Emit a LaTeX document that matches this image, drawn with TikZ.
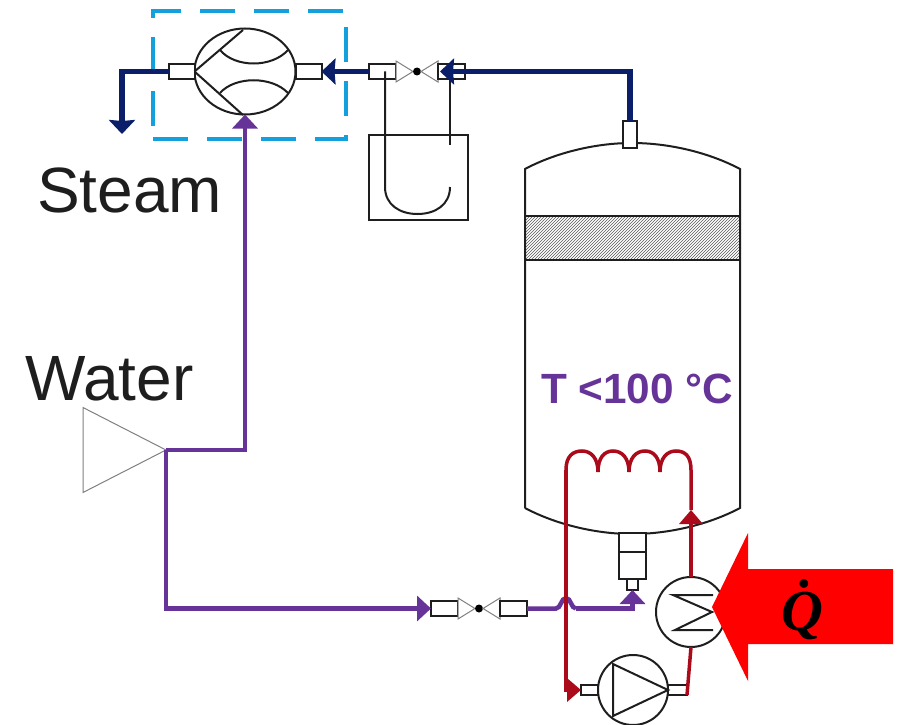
\documentclass[tikz,border=0pt]{standalone}
\usepackage{fontspec}
\setmainfont{Liberation Sans}
\newfontfamily\qfont{Liberation Serif}
\usetikzlibrary{positioning, arrows.meta, shapes.geometric, patterns}
\definecolor{steamcolor}{RGB}{10, 30, 105}
\definecolor{watercolor}{RGB}{102, 51, 153}
\definecolor{heatcolor}{RGB}{170, 10, 25}
\definecolor{boxcolor}{RGB}{20, 160, 220}
\definecolor{linecolor}{RGB}{30, 30, 30}

\begin{document}
\begin{tikzpicture}[
    x=1pt, y=-1pt,
    every node/.style={inner sep=0pt, outer sep=0pt},
    equip/.style={draw=linecolor, line width=2pt, fill=white},
    stub/.style={equip, rectangle, minimum width=27pt, minimum height=15pt},
    vtri/.style={isosceles triangle, isosceles triangle stretches, draw=gray, line width=1pt, fill=white, minimum width=21pt, minimum height=17pt},
    vdot/.style={circle, fill=black, minimum size=8pt},
    steamline/.style={-{Stealth[inset=1pt, length=14pt, width=26pt]}, steamcolor, line width=5.5pt},
    waterline/.style={-{Stealth[inset=0pt, length=14pt, width=25pt]}, watercolor, line width=4.5pt},
    heatline/.style={-{Stealth[inset=0pt, length=14pt, width=23pt]}, heatcolor, line width=3.5pt},
    thinline/.style={linecolor, line width=2pt},
    label/.style={text=linecolor, anchor=base west, font=\fontsize{64}{64}\selectfont},
]
\useasboundingbox (0,0) rectangle (903,725);

% ============ Steam side ============
\node[draw=boxcolor, line width=4pt, dash pattern=on 35pt off 19pt, minimum width=193pt, minimum height=128pt] (steam_box) at (249.5,75) {};
\node[equip, ellipse, minimum width=101pt, minimum height=86pt] (ejector) at (245,71.5) {};
\node[stub, minimum width=26pt, left=0pt of ejector] (ejector_l) {};
\node[stub, minimum width=26pt, right=0pt of ejector] (ejector_r) {};
\coordinate (steam_end) at (122,134);

% ============ Top valve and U-tube ============
\node[stub] (valve_top_l) at (382.5,71.5) {};
\node[vtri, right=0pt of valve_top_l] (vtri_top_l) {};
\node[vdot, right=0pt of vtri_top_l] (vdot_top) {};
\node[vtri, shape border rotate=180, right=0pt of vdot_top] (vtri_top_r) {};
\node[stub, right=0pt of vtri_top_r] (valve_top_r) {};
\node[equip, fill=none, minimum width=99pt, minimum height=85pt] (tank) at (418.5,177.5) {};
\coordinate (tube_l) at (385,187);
\coordinate (tube_r) at (450,187);
\coordinate (tube_dip) at (450,145);

% ============ Vessel ============
\node[rectangle, pattern=north east lines, pattern color=black!65, minimum width=215pt, minimum height=44pt] (packing) at (632.5,238) {};
\draw[thinline] (packing.north west) -- (packing.north east);
\draw[thinline] (packing.south west) -- (packing.south east);
\draw[thinline] (525,508) -- (525,169) .. controls (555,153) and (595,143) .. (632,143) .. controls (670,143) and (710,153) .. (740,169) -- (740,508) .. controls (710,524) and (670,534) .. (632,534) .. controls (595,534) and (555,524) .. (525,508);
\node[stub, minimum width=14pt, minimum height=27pt] (vessel_top) at (630,134.5) {};
\node[stub, minimum width=27pt, minimum height=19pt] (boiler_neck) at (632.5,542.5) {};
\node[stub, minimum width=27pt, minimum height=27pt, below=0pt of boiler_neck] (boiler_body) {};
\node[stub, minimum width=11pt, minimum height=11pt, below=0pt of boiler_body] (boiler_stub) {};

% ============ Water feed ============
\node[isosceles triangle, isosceles triangle stretches, draw=gray, line width=1pt, fill=white, minimum width=85pt, minimum height=83pt, anchor=apex] (water_pump) at (166,450) {};
\node[stub] (valve_low_l) at (444.5,608.5) {};
\node[vtri, right=0pt of valve_low_l] (vtri_low_l) {};
\node[vdot, right=0pt of vtri_low_l] (vdot_low) {};
\node[vtri, shape border rotate=180, right=0pt of vdot_low] (vtri_low_r) {};
\node[stub, right=0pt of vtri_low_r] (valve_low_r) {};
\coordinate (hop_a) at (556,608.5);
\coordinate (hop_b) at (576,608.5);

% ============ Heating loop ============
\node[equip, circle, minimum size=70pt] (hx) at (691,612) {};
\node[equip, circle, minimum size=70pt] (pump) at (633,690) {};
\node[stub, minimum width=17pt, minimum height=10pt, left=0pt of pump] (pump_in) {};
\node[stub, minimum width=19pt, minimum height=10pt, right=0pt of pump] (pump_out) {};
\coordinate (coil_l) at (566,470);
\coordinate (coil_r) at (691,470);
\coordinate (coil_arrow) at (691,510);

% ============ Symbols inside equipment ============
\draw[thinline] (ejector_l.east) -- (243,30);
\draw[thinline] (ejector_l.east) -- (243,115);
\draw[thinline] (220,50) .. controls (235,68) and (272,68) .. (288,50);
\draw[thinline] (220,93) .. controls (235,76) and (272,76) .. (288,93);
\draw[thinline] (713,595) -- (673,595) -- (712,612) -- (675,630) -- (713,630);
\draw[thinline] (613,664) -- (613,716) -- (pump_out.west) -- cycle;

% ============ U-tube lines ============
\draw[thinline] (tube_l |- valve_top_l) -- (tube_l) .. controls (385,205) and (400,214) .. (417.5,214) .. controls (435,214) and (450,205) .. (tube_r);
\draw[thinline] (tube_dip |- valve_top_r) -- (tube_dip);

% ============ Arrows ============
\draw[steamline] (vessel_top.north) |- ([xshift=2pt]valve_top_r.west);
\draw[steamline] (valve_top_l.west) -- (ejector_r.east);
\draw[steamline] (ejector_l.west) -| (steam_end);

\draw[waterline] (water_pump.apex) -| (ejector.south);
\draw[waterline] (water_pump.apex) |- (valve_low_l.west);
\draw[watercolor, line width=4.5pt] (valve_low_r.east) -- (hop_a) .. controls (561,608.5) and (561,598) .. (566,598) .. controls (571,598) and (571,608.5) .. (hop_b);
\draw[waterline] (hop_b) -- (hop_b -| boiler_stub) -- (boiler_stub.south);

\draw[heatline] (hx.north) -- (coil_arrow);
\draw[heatcolor, line width=3.5pt] (coil_arrow) -- (coil_r) .. controls (691,456) and (685,451) .. (676,451) .. controls (667,451) and (660,458) .. (660,472) .. controls (660,458) and (654,451) .. (645,451) .. controls (636,451) and (629,458) .. (629,472) .. controls (629,458) and (622,451) .. (613,451) .. controls (604,451) and (598,458) .. (598,472) .. controls (598,458) and (591,451) .. (582,451) .. controls (573,451) and (566,456) .. (coil_l);
\draw[heatline] (coil_l) |- (pump_in.west);
\draw[heatcolor, line width=3.5pt] (pump_out.south east) -- (hx.south);

% ============ Heat input ============
\fill[red] (712,607) -- (748,533) -- (748,569) -- (893,569) -- (893,644) -- (748,644) -- (748,681) -- cycle;
\node[anchor=base, font=\fontsize{58}{58}\selectfont\qfont\bfseries\itshape] (heat_label) at (802,630) {Q^^^^0307};

% ============ Labels ============
\node[label] (steam_label) at (37,212) {Steam};
\node[label] (water_label) at (25,400) {Water};
\node[anchor=base west, text=watercolor, font=\fontsize{42.3}{42.3}\selectfont\bfseries] (temp_label) at (541,403) {T <100 °C};

\end{tikzpicture}
\end{document}
